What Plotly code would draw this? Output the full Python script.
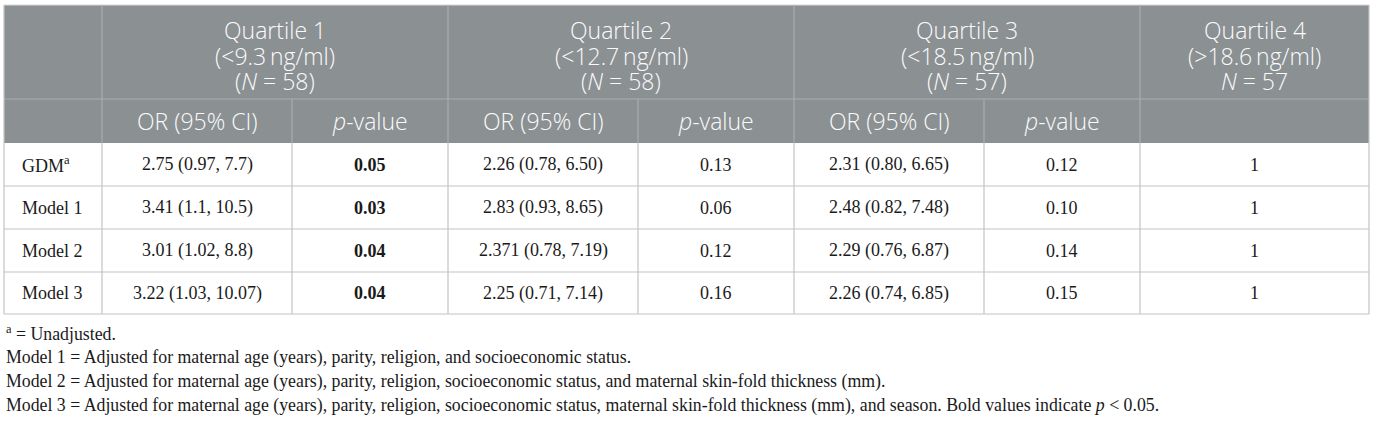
import plotly.graph_objects as go

# table content
row_labels = ["GDM<sup>a</sup>", "Model 1", "Model 2", "Model 3"]
quartile_titles = [
    ["Quartile 1", "(&lt;9.3\u2009ng/ml)", "(<i>N</i> = 58)"],
    ["Quartile 2", "(&lt;12.7\u2009ng/ml)", "(<i>N</i> = 58)"],
    ["Quartile 3", "(&lt;18.5\u2009ng/ml)", "(<i>N</i> = 57)"],
    ["Quartile 4", "(&gt;18.6\u2009ng/ml)", "<i>N</i> = 57"],
]
sub_headers = ["OR (95% CI)", "<i>p</i>-value"]

q1_or = ["2.75 (0.97, 7.7)", "3.41 (1.1, 10.5)", "3.01 (1.02, 8.8)", "3.22 (1.03, 10.07)"]
q1_p = ["0.05", "0.03", "0.04", "0.04"]
q2_or = ["2.26 (0.78, 6.50)", "2.83 (0.93, 8.65)", "2.371 (0.78, 7.19)", "2.25 (0.71, 7.14)"]
q2_p = ["0.13", "0.06", "0.12", "0.16"]
q3_or = ["2.31 (0.80, 6.65)", "2.48 (0.82, 7.48)", "2.29 (0.76, 6.87)", "2.26 (0.74, 6.85)"]
q3_p = ["0.12", "0.10", "0.14", "0.15"]
q4_ref = ["1", "1", "1", "1"]

footnotes = [
    "<sup>a</sup> = Unadjusted.",
    "Model 1 = Adjusted for maternal age (years), parity, religion, and socioeconomic status.",
    "Model 2 = Adjusted for maternal age (years), parity, religion, socioeconomic status, and maternal skin-fold thickness (mm).",
    "Model 3 = Adjusted for maternal age (years), parity, religion, socioeconomic status, maternal skin-fold thickness (mm), and season. Bold values indicate <i>p</i> &lt; 0.05.",
]

# layout geometry (pixels)
W, H = 1375, 422
col_edges = [4, 102, 292, 448, 638, 794, 984, 1140, 1369]
row_edges = [5, 99, 143, 186, 229, 272, 314]
head_line_y = [30, 55.5, 80.5]
foot_y = [333, 357, 381, 405]

HEAD_BG = "#8b9093"
HEAD_LINE = "#a9adb0"
BODY_LINE = "#c3c3c3"
HEAD_FONT = dict(family="'Open Sans', Lato, sans-serif", size=23, color="#fbfbfb", weight=300)
BODY_FONT = dict(family="'Liberation Serif', 'DejaVu Serif', serif", size=18, color="#1a1a1a")
FOOT_FONT = dict(family="'Liberation Serif', 'DejaVu Serif', serif", size=17.8, color="#1a1a1a")

fig = go.Figure()
shapes = []
annotations = []

def line(x0, y0, x1, y1, color):
    shapes.append(dict(type="line", x0=x0, y0=y0, x1=x1, y1=y1,
                       line=dict(color=color, width=1.2), layer="above"))

def cell_text(x, y, text, font, bold=False):
    if bold:
        text = "<b>" + text + "</b>"
    annotations.append(dict(x=x, y=y, text=text, showarrow=False, font=font,
                            xanchor="center", yanchor="middle"))

# header background
shapes.append(dict(type="rect", x0=col_edges[0], x1=col_edges[-1], y0=row_edges[0], y1=row_edges[2],
                   fillcolor=HEAD_BG, line=dict(width=0), layer="below"))

# header lines
line(col_edges[0], row_edges[0], col_edges[-1], row_edges[0], "#d5d7d8")
line(col_edges[0], row_edges[1], col_edges[-1], row_edges[1], HEAD_LINE)
for i in [1, 3, 5, 7]:
    line(col_edges[i], row_edges[0], col_edges[i], row_edges[2], HEAD_LINE)
for i in [2, 4, 6]:
    line(col_edges[i], row_edges[1], col_edges[i], row_edges[2], HEAD_LINE)

# body lines
for y in row_edges[3:]:
    line(col_edges[0], y, col_edges[-1], y, BODY_LINE)
for x in col_edges:
    line(x, row_edges[2], x, row_edges[-1], BODY_LINE)
line(col_edges[0], row_edges[0], col_edges[0], row_edges[2], BODY_LINE)
line(col_edges[-1], row_edges[0], col_edges[-1], row_edges[2], BODY_LINE)

# header texts, one annotation per line to keep the tight line spacing
group_spans = [(1, 3), (3, 5), (5, 7), (7, 8)]
for (a, b), title in zip(group_spans, quartile_titles):
    for y, part in zip(head_line_y, title):
        cell_text((col_edges[a] + col_edges[b]) / 2, y, part, HEAD_FONT)
y_sub = (row_edges[1] + row_edges[2]) / 2
for k in range(3):
    for j, sh in enumerate(sub_headers):
        c = 1 + 2 * k + j
        cell_text((col_edges[c] + col_edges[c + 1]) / 2, y_sub, sh, HEAD_FONT)

# body texts
columns = [q1_or, q1_p, q2_or, q2_p, q3_or, q3_p, q4_ref]
for r, label in enumerate(row_labels):
    yc = (row_edges[r + 2] + row_edges[r + 3]) / 2
    annotations.append(dict(x=col_edges[0] + 16, y=yc, text=label, showarrow=False,
                            font=BODY_FONT, xanchor="left", yanchor="middle"))
    for c, col in enumerate(columns):
        bold = c == 1 and float(col[r]) <= 0.05
        cell_text((col_edges[c + 1] + col_edges[c + 2]) / 2, yc, col[r], BODY_FONT, bold)

# footnotes
for y, note in zip(foot_y, footnotes):
    annotations.append(dict(x=col_edges[0], y=y, text=note, showarrow=False,
                            font=FOOT_FONT, xanchor="left", yanchor="middle"))

fig.update_layout(
    width=W, height=H,
    margin=dict(l=0, r=0, t=0, b=0),
    paper_bgcolor="white", plot_bgcolor="white",
    xaxis=dict(range=[0, W], visible=False, fixedrange=True),
    yaxis=dict(range=[H, 0], visible=False, fixedrange=True),
    shapes=shapes, annotations=annotations,
    showlegend=False,
)

# drop the browser's default page margin so the figure sits at the top-left corner
fig.write_html("out.html", config={"displayModeBar": False},
               post_script="document.body.style.margin='0';document.body.style.overflow='hidden';")
